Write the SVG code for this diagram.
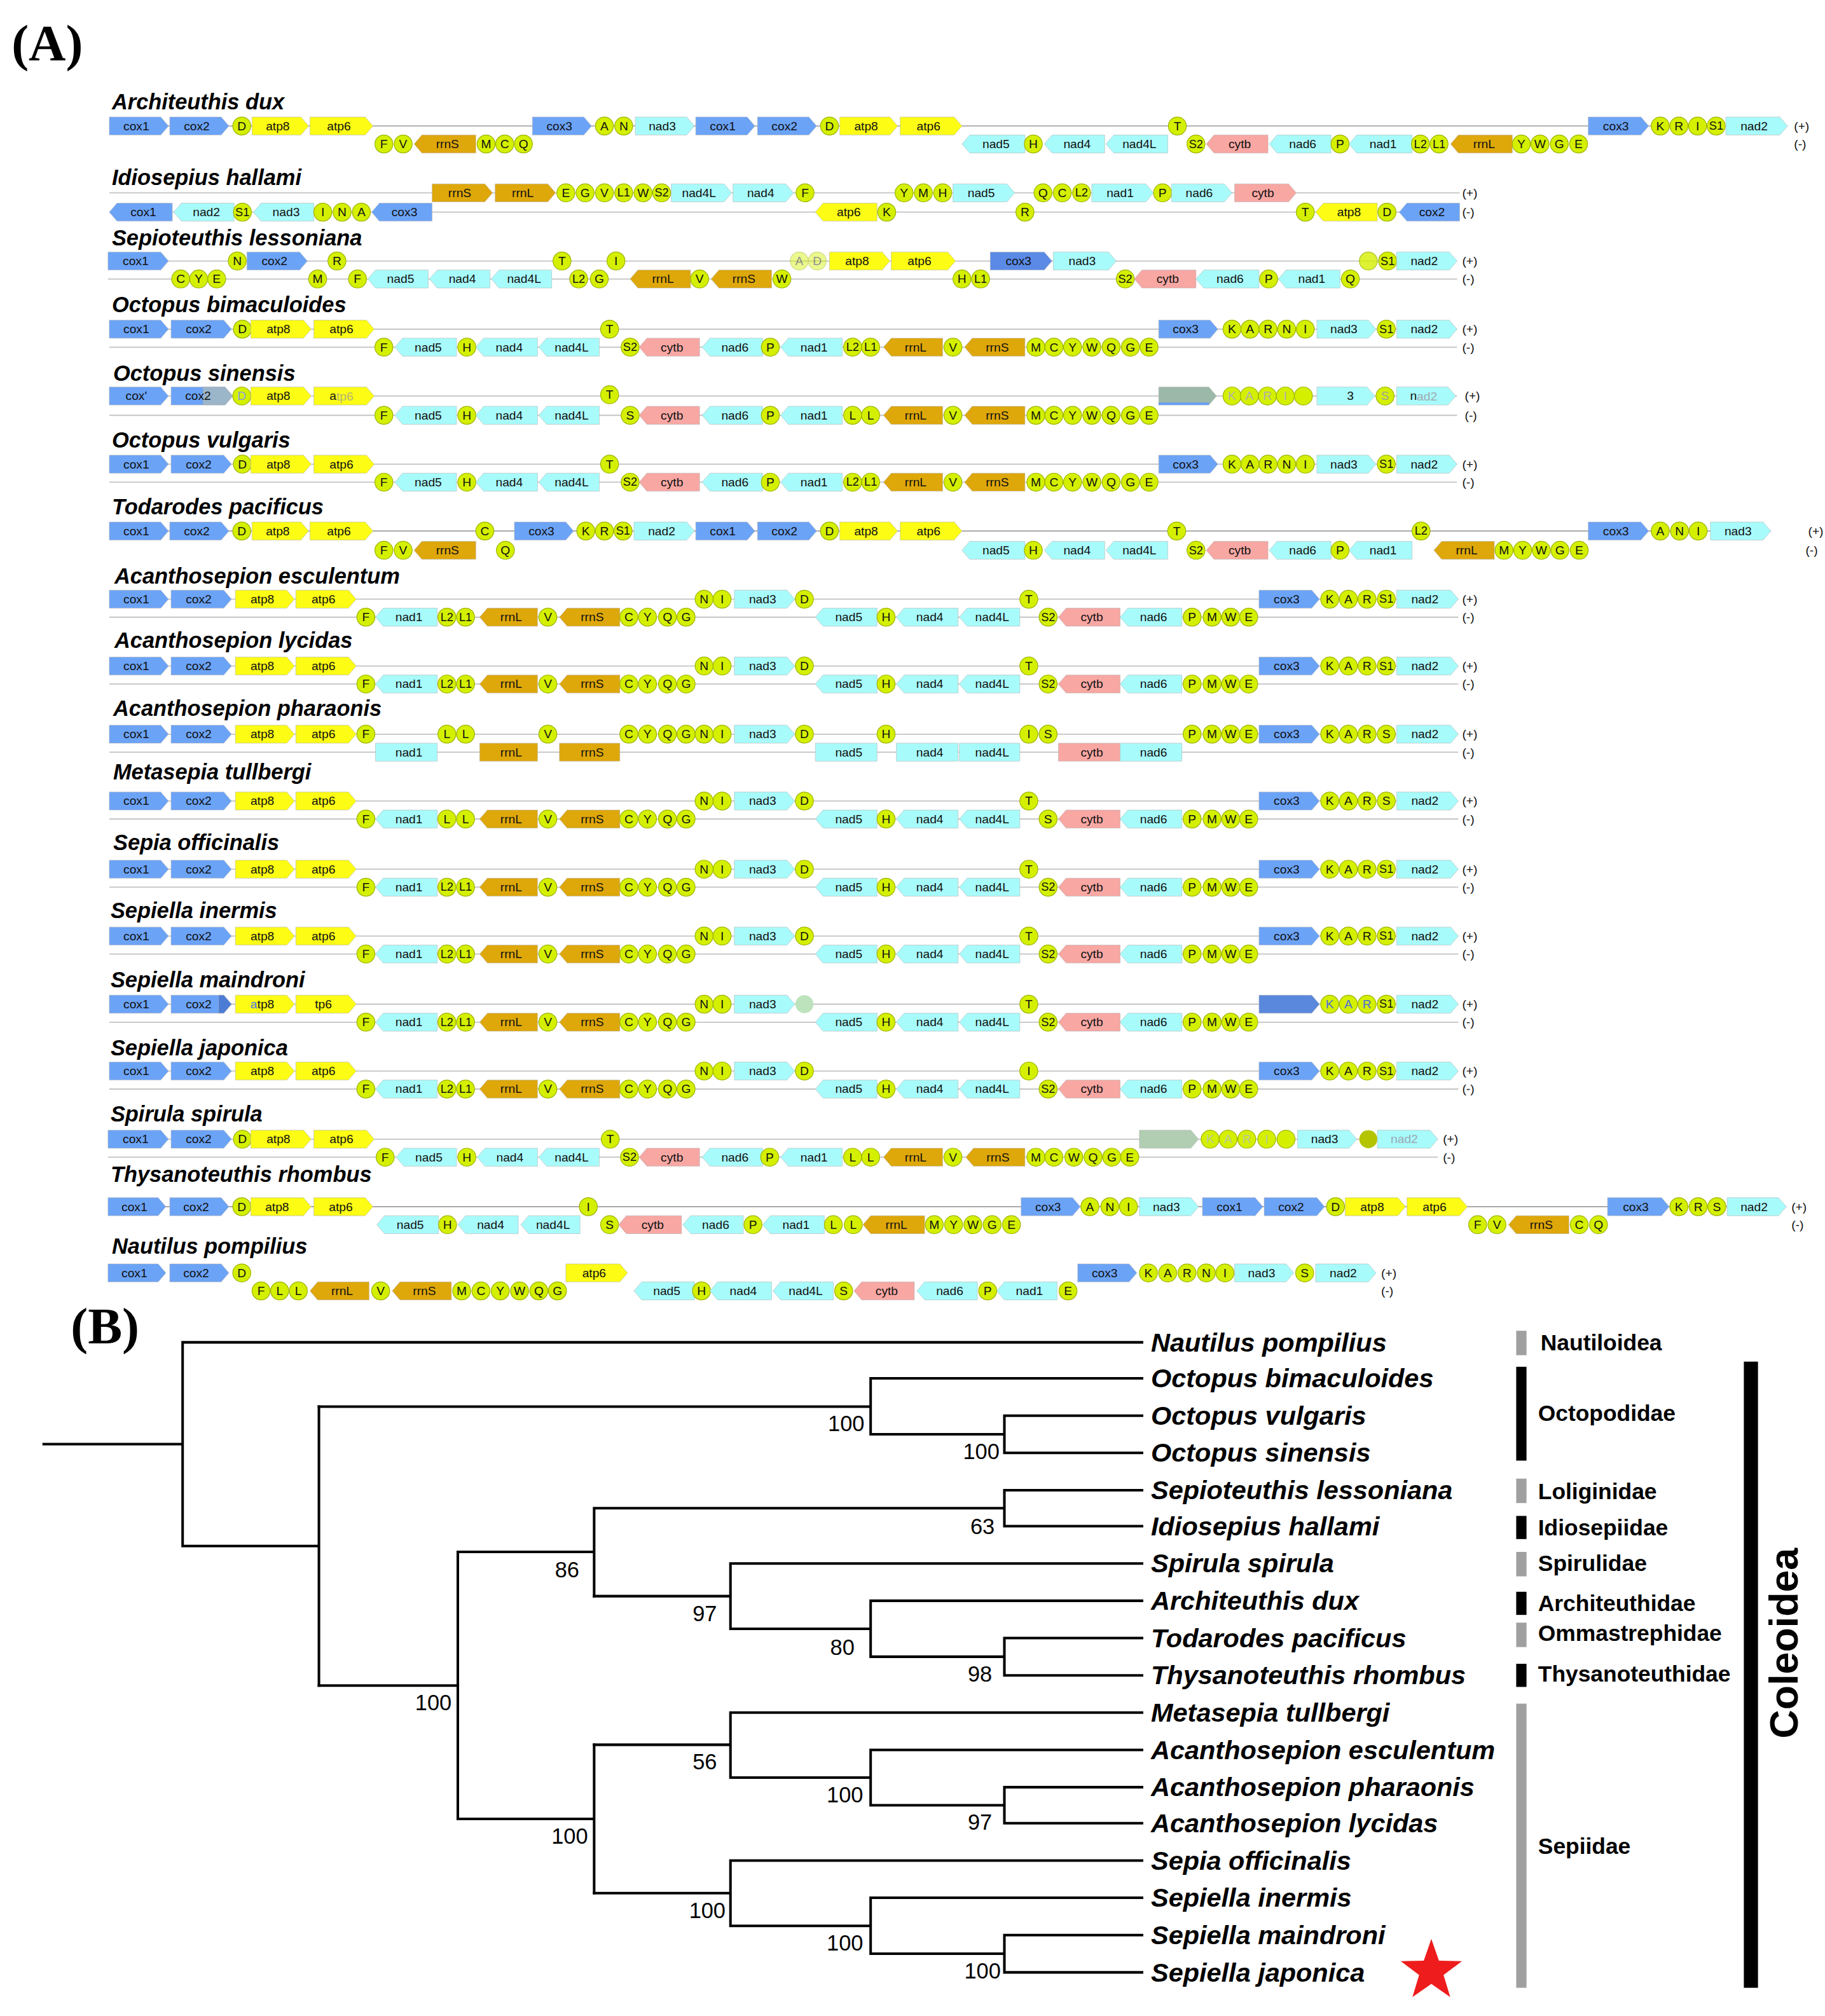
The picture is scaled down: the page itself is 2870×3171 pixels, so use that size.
<svg xmlns="http://www.w3.org/2000/svg" width="2870" height="3171" viewBox="0 0 2870 3171">
<style>
.b{fill:#6ba3f7}.n{fill:#a8fbfb}.a{fill:#fcfc14}.r{fill:#dea70a}.p{fill:#f8a7a3}
.row path{stroke:#b5b5b5;stroke-width:.3}
.t{fill:#d4f000;stroke:#9fb400;stroke-width:.6}
.row text{font-family:"Liberation Sans",Arial,sans-serif;font-size:9.5px;text-anchor:middle;dominant-baseline:central;fill:#111}
.row text.sm{font-size:9px}
.row .ln{fill:none;stroke:#c4c4c4;stroke-width:.9}
.row .ld{fill:none;stroke:#a8a8a8;stroke-width:.9}
.row text.pm{text-anchor:start;font-size:9.5px}
.row text.nm{font-family:"Liberation Sans",Arial,sans-serif;font-size:17px;font-weight:bold;font-style:italic;fill:#000;text-anchor:start;dominant-baseline:auto}
.pl{font-family:"Liberation Serif","Times New Roman",serif;font-size:40px;font-weight:bold;fill:#000}
.tree{fill:none;stroke:#000;stroke-width:2;stroke-linecap:square}
.leaf{font-family:"Liberation Sans",Arial,sans-serif;font-size:20.5px;font-weight:bold;font-style:italic;fill:#000}
.bs{font-family:"Liberation Sans",Arial,sans-serif;font-size:17px;fill:#000;text-anchor:middle}
.fam{font-family:"Liberation Sans",Arial,sans-serif;font-size:17.5px;font-weight:bold;fill:#000}
.fd{fill:#a0a0a0}.fk{fill:#000}
</style>
<rect width="2870" height="3171" fill="#fff"/>
<g transform="scale(2.0224)">
<text class="pl" x="9" y="47">(A)</text>
<text class="pl" x="55" y="1045">(B)</text>

<!-- Row 1 Architeuthis dux -->
<g id="map-architeuthis-dux" class="row">
<text class="nm" x="87" y="85">Architeuthis dux</text>
<g transform="translate(0,98)">
<path class="ld" d="M85 0H1390"/>
<path class="b" d="M85-7H125l6 7-6 7H85z"/><text x="106">cox1</text>
<path class="b" d="M132-7H172l6 7-6 7H132z"/><text x="153">cox2</text>
<circle class="t" cx="188" r="7"/><text x="188">D</text>
<path class="a" d="M196-7H234l6 7-6 7H196z"/><text x="216">atp8</text>
<path class="a" d="M241-7H284l6 7-6 7H241z"/><text x="263.5">atp6</text>
<path class="b" d="M414-7H454l6 7-6 7H414z"/><text x="435">cox3</text>
<circle class="t" cx="470" r="7"/><text x="470">A</text>
<circle class="t" cx="485" r="7"/><text x="485">N</text>
<path class="n" d="M494-7H534l6 7-6 7H494z"/><text x="515">nad3</text>
<path class="b" d="M541-7H581l6 7-6 7H541z"/><text x="562">cox1</text>
<path class="b" d="M589-7H629l6 7-6 7H589z"/><text x="610">cox2</text>
<circle class="t" cx="645" r="7"/><text x="645">D</text>
<path class="a" d="M653-7H692l6 7-6 7H653z"/><text x="673.5">atp8</text>
<path class="a" d="M700-7H742l6 7-6 7H700z"/><text x="722">atp6</text>
<circle class="t" cx="915.5" r="7"/><text x="915.5">T</text>
<path class="b" d="M1235-7H1276l6 7-6 7H1235z"/><text x="1256.5">cox3</text>
<circle class="t" cx="1291" r="7"/><text x="1291">K</text>
<circle class="t" cx="1305.5" r="7"/><text x="1305.5">R</text>
<circle class="t" cx="1320" r="7"/><text x="1320">I</text>
<circle class="t" cx="1334.5" r="7"/><text class="sm" x="1334.5">S1</text>
<path class="n" d="M1342-7H1384l6 7-6 7H1342z"/><text x="1364">nad2</text>
<text class="pm" x="1395">(+)</text>
</g>
<g transform="translate(0,112)">
<circle class="t" cx="298.5" r="7"/><text x="298.5">F</text>
<circle class="t" cx="313.5" r="7"/><text x="313.5">V</text>
<path class="r" d="M322 0l6-7H370v14H328z"/><text x="348">rrnS</text>
<circle class="t" cx="378" r="7"/><text x="378">M</text>
<circle class="t" cx="392.5" r="7"/><text x="392.5">C</text>
<circle class="t" cx="407" r="7"/><text x="407">Q</text>
<path class="n" d="M748 0l6-7H797v14H754z"/><text x="774.5">nad5</text>
<circle class="t" cx="803.5" r="7"/><text x="803.5">H</text>
<path class="n" d="M812 0l6-7H859v14H818z"/><text x="837.5">nad4</text>
<path class="n" d="M860 0l6-7H908v14H866z"/><text x="886">nad4L</text>
<circle class="t" cx="930" r="7"/><text class="sm" x="930">S2</text>
<path class="p" d="M938 0l6-7H986v14H944z"/><text x="964">cytb</text>
<path class="n" d="M987 0l6-7H1035v14H993z"/><text x="1013">nad6</text>
<circle class="t" cx="1042" r="7"/><text x="1042">P</text>
<path class="n" d="M1049 0l6-7H1098v14H1055z"/><text x="1075.5">nad1</text>
<circle class="t" cx="1104.5" r="7"/><text class="sm" x="1104.5">L2</text>
<circle class="t" cx="1119" r="7"/><text class="sm" x="1119">L1</text>
<path class="r" d="M1128 0l6-7H1176v14H1134z"/><text x="1154">rrnL</text>
<circle class="t" cx="1183" r="7"/><text x="1183">Y</text>
<circle class="t" cx="1197.5" r="7"/><text x="1197.5">W</text>
<circle class="t" cx="1212.5" r="7"/><text x="1212.5">G</text>
<circle class="t" cx="1227.5" r="7"/><text x="1227.5">E</text>
<text class="pm" x="1395">(-)</text>
</g>
</g>

<!-- Row 2 Idiosepius hallami -->
<g id="map-idiosepius-hallami" class="row">
<text class="nm" x="87" y="144">Idiosepius hallami</text>
<g transform="translate(0,150)">
<path class="ln" d="M85 0H1135M85 15H1135"/>
<path class="r" d="M336-7H377l6 7-6 7H336z"/><text x="357.5">rrnS</text>
<path class="r" d="M385-7H426l6 7-6 7H385z"/><text x="406.5">rrnL</text>
<circle class="t" cx="440" r="7"/><text x="440">E</text>
<circle class="t" cx="455" r="7"/><text x="455">G</text>
<circle class="t" cx="470" r="7"/><text x="470">V</text>
<circle class="t" cx="485" r="7"/><text class="sm" x="485">L1</text>
<circle class="t" cx="500" r="7"/><text x="500">W</text>
<circle class="t" cx="514.5" r="7"/><text class="sm" x="514.5">S2</text>
<path class="n" d="M522-7H563l6 7-6 7H522z"/><text x="543.5">nad4L</text>
<path class="n" d="M570-7H611l6 7-6 7H570z"/><text x="591.5">nad4</text>
<circle class="t" cx="626" r="7"/><text x="626">F</text>
<circle class="t" cx="703" r="7"/><text x="703">Y</text>
<circle class="t" cx="718" r="7"/><text x="718">M</text>
<circle class="t" cx="733" r="7"/><text x="733">H</text>
<path class="n" d="M741-7H783l6 7-6 7H741z"/><text x="763">nad5</text>
<circle class="t" cx="811" r="7"/><text x="811">Q</text>
<circle class="t" cx="826" r="7"/><text x="826">C</text>
<circle class="t" cx="841" r="7"/><text class="sm" x="841">L2</text>
<path class="n" d="M849-7H891l6 7-6 7H849z"/><text x="871">nad1</text>
<circle class="t" cx="904" r="7"/><text x="904">P</text>
<path class="n" d="M911-7H952l6 7-6 7H911z"/><text x="932.5">nad6</text>
<path class="p" d="M960-7H1002l6 7-6 7H960z"/><text x="982">cytb</text>
<text class="pm" x="1137">(+)</text>
</g>
<g transform="translate(0,165)">
<path class="b" d="M85 0l6-7H134v14H91z"/><text x="111.5">cox1</text>
<path class="n" d="M135 0l6-7H182v14H141z"/><text x="160.5">nad2</text>
<circle class="t" cx="188.5" r="7"/><text class="sm" x="188.5">S1</text>
<path class="n" d="M197 0l6-7H244v14H203z"/><text x="222.5">nad3</text>
<circle class="t" cx="251" r="7"/><text x="251">I</text>
<circle class="t" cx="266" r="7"/><text x="266">N</text>
<circle class="t" cx="281" r="7"/><text x="281">A</text>
<path class="b" d="M289 0l6-7H336v14H295z"/><text x="314.5">cox3</text>
<path class="a" d="M634 0l6-7H682v14H640z"/><text x="660">atp6</text>
<circle class="t" cx="689.5" r="7"/><text x="689.5">K</text>
<circle class="t" cx="797" r="7"/><text x="797">R</text>
<circle class="t" cx="1015" r="7"/><text x="1015">T</text>
<path class="a" d="M1023 0l6-7H1071v14H1029z"/><text x="1049">atp8</text>
<circle class="t" cx="1078.5" r="7"/><text x="1078.5">D</text>
<path class="b" d="M1088 0l6-7H1135v14H1094z"/><text x="1113.5">cox2</text>
<text class="pm" x="1137">(-)</text>
</g>
</g>

<!-- Row 3 Sepioteuthis lessoniana -->
<g id="map-sepioteuthis-lessoniana" class="row">
<text class="nm" x="87" y="191">Sepioteuthis lessoniana</text>
<g transform="translate(0,203)">
<path class="ln" d="M84 0H1133M84 14H1133"/>
<path class="b" d="M84-7H125l6 7-6 7H84z"/><text x="105.5">cox1</text>
<circle class="t" cx="184.5" r="7"/><text x="184.5">N</text>
<path class="b" d="M192-7H233l6 7-6 7H192z"/><text x="213.5">cox2</text>
<circle class="t" cx="262" r="7"/><text x="262">R</text>
<circle class="t" cx="437" r="7"/><text x="437">T</text>
<circle class="t" cx="479" r="7"/><text x="479">I</text>
<g opacity=".45"><circle class="t" cx="621.5" r="7"/><text x="621.5">A</text>
<circle class="t" cx="635.5" r="7"/><text x="635.5">D</text></g>
<path class="a" d="M645-7H686l6 7-6 7H645z"/><text x="666.5">atp8</text>
<path class="a" d="M693-7H737l6 7-6 7H693z"/><text x="715">atp6</text>
<path class="b" d="M770-7H812l6 7-6 7H770z" style="fill:#5a8ae6"/><text x="792">cox3</text>
<path class="n" d="M819-7H862l6 7-6 7H819z"/><text x="841.5">nad3</text>
<circle class="t" cx="1064" r="7" opacity=".8"/>
<circle class="t" cx="1079" r="7"/><text class="sm" x="1079">S1</text>
<path class="n" d="M1086-7H1127l6 7-6 7H1086z"/><text x="1107.5">nad2</text>
<text class="pm" x="1137">(+)</text>
</g>
<g transform="translate(0,217)">
<circle class="t" cx="140.5" r="7"/><text x="140.5">C</text>
<circle class="t" cx="154.5" r="7"/><text x="154.5">Y</text>
<circle class="t" cx="168.5" r="7"/><text x="168.5">E</text>
<circle class="t" cx="247" r="7"/><text x="247">M</text>
<circle class="t" cx="278" r="7"/><text x="278">F</text>
<path class="n" d="M286 0l6-7H333v14H292z"/><text x="311.5">nad5</text>
<path class="n" d="M334 0l6-7H381v14H340z"/><text x="359.5">nad4</text>
<path class="n" d="M382 0l6-7H429v14H388z"/><text x="407.5">nad4L</text>
<circle class="t" cx="450" r="7"/><text class="sm" x="450">L2</text>
<circle class="t" cx="466" r="7"/><text x="466">G</text>
<path class="r" d="M490 0l6-7H537v14H496z"/><text x="515.5">rrnL</text>
<circle class="t" cx="544" r="7"/><text x="544">V</text>
<path class="r" d="M553 0l6-7H600v14H559z"/><text x="578.5">rrnS</text>
<circle class="t" cx="608" r="7"/><text x="608">W</text>
<circle class="t" cx="748" r="7"/><text x="748">H</text>
<circle class="t" cx="762.5" r="7"/><text class="sm" x="762.5">L1</text>
<circle class="t" cx="875" r="7"/><text class="sm" x="875">S2</text>
<path class="p" d="M882 0l6-7H930v14H888z"/><text x="908">cytb</text>
<path class="n" d="M930 0l6-7H979v14H936z"/><text x="956.5">nad6</text>
<circle class="t" cx="986.5" r="7"/><text x="986.5">P</text>
<path class="n" d="M994 0l6-7H1042v14H1000z"/><text x="1020">nad1</text>
<circle class="t" cx="1050" r="7"/><text x="1050">Q</text>
<text class="pm" x="1137">(-)</text>
</g>
</g>

<!-- Row 4 Octopus bimaculoides -->
<g id="map-octopus-bimaculoides" class="row">
<text class="nm" x="87" y="243">Octopus bimaculoides</text>
<g transform="translate(0,256)">
<path class="ln" d="M85 0H1133M85 14H1133"/>
<path class="b" d="M85-7H125l6 7-6 7H85z"/><text x="106">cox1</text>
<path class="b" d="M133-7H174l6 7-6 7H133z"/><text x="154.5">cox2</text>
<circle class="t" cx="188.5" r="7"/><text x="188.5">D</text>
<path class="a" d="M195-7H236l6 7-6 7H195z"/><text x="216.5">atp8</text>
<path class="a" d="M244-7H285l6 7-6 7H244z"/><text x="265.5">atp6</text>
<circle class="t" cx="474" r="7"/><text x="474">T</text>
<path class="b" d="M901-7H941l6 7-6 7H901z"/><text x="922">cox3</text>
<circle class="t" cx="958" r="7"/><text x="958">K</text>
<circle class="t" cx="972" r="7"/><text x="972">A</text>
<circle class="t" cx="986" r="7"/><text x="986">R</text>
<circle class="t" cx="1000.5" r="7"/><text x="1000.5">N</text>
<circle class="t" cx="1015" r="7"/><text x="1015">I</text>
<path class="n" d="M1024-7H1064l6 7-6 7H1024z"/><text x="1045">nad3</text>
<circle class="t" cx="1078" r="7"/><text class="sm" x="1078">S1</text>
<path class="n" d="M1086-7H1127l6 7-6 7H1086z"/><text x="1107.5">nad2</text>
<text class="pm" x="1137">(+)</text>
</g>
<g transform="translate(0,270)">
<circle class="t" cx="298.5" r="7"/><text x="298.5">F</text>
<path class="n" d="M307 0l6-7H355v14H313z"/><text x="333">nad5</text>
<circle class="t" cx="363" r="7"/><text x="363">H</text>
<path class="n" d="M370 0l6-7H418v14H376z"/><text x="396">nad4</text>
<path class="n" d="M419 0l6-7H466v14H425z"/><text x="444.5">nad4L</text>
<circle class="t" cx="490" r="7"/><text class="sm" x="490">S2</text>
<path class="p" d="M497 0l6-7H544v14H503z"/><text x="522.5">cytb</text>
<path class="n" d="M546 0l6-7H593v14H552z"/><text x="571.5">nad6</text>
<circle class="t" cx="599" r="7"/><text x="599">P</text>
<path class="n" d="M607 0l6-7H655v14H613z"/><text x="633">nad1</text>
<circle class="t" cx="663" r="7"/><text class="sm" x="663">L2</text>
<circle class="t" cx="677" r="7"/><text class="sm" x="677">L1</text>
<path class="r" d="M687 0l6-7H733v14H693z"/><text x="712">rrnL</text>
<circle class="t" cx="741" r="7"/><text x="741">V</text>
<path class="r" d="M750 0l6-7H797v14H756z"/><text x="775.5">rrnS</text>
<circle class="t" cx="805.5" r="7"/><text x="805.5">M</text>
<circle class="t" cx="819.5" r="7"/><text x="819.5">C</text>
<circle class="t" cx="834" r="7"/><text x="834">Y</text>
<circle class="t" cx="849" r="7"/><text x="849">W</text>
<circle class="t" cx="864" r="7"/><text x="864">Q</text>
<circle class="t" cx="879" r="7"/><text x="879">G</text>
<circle class="t" cx="893.5" r="7"/><text x="893.5">E</text>
<text class="pm" x="1137">(-)</text>
</g>
</g>

<!-- Row 5 Octopus sinensis -->
<g id="map-octopus-sinensis" class="row">
<text class="nm" x="88" y="296">Octopus sinensis</text>
<g transform="translate(0,308)">
<path class="ln" d="M85 0H1133M85 15H1133"/>
<path class="b" d="M85-7H125l6 7-6 7H85z"/><text x="106">cox'</text>
<path class="b" d="M133-7H175l6 7-6 7H133z"/><path d="M158-7H175l6 7-6 7H158z" fill="#9bb5c9"/><text x="154" fill="#5a78b0">cox2</text>
<circle class="t" cx="188" r="7"/><text x="188" style="fill:#8aa0e0">D</text>
<path class="a" d="M195-7H236l6 7-6 7H195z"/><text x="216.5">atp8</text>
<path class="a" d="M244-7H285l6 7-6 7H244z"/><text x="265.5">a<tspan fill="#b5b57a">tp6</tspan></text>
<circle class="t" cx="474" cy="-1" r="7"/><text x="474" y="-1">T</text>
<path d="M901-7H940l6 7-6 7H901z" fill="#9cb8a8"/><rect x="901" y="5" width="39" height="2" fill="#6a9ff0"/>
<g style="fill:#b0b8a0"><circle class="t" cx="958" r="7"/><text x="958" style="fill:#b0b0b0">K</text>
<circle class="t" cx="971.5" r="7"/><text x="971.5" style="fill:#b0b0b0">A</text>
<circle class="t" cx="985.5" r="7"/><text x="985.5" style="fill:#b0b0b0">R</text>
<circle class="t" cx="999.5" r="7"/><text x="999.5" style="fill:#b0b0b0">I</text>
<circle class="t" cx="1013.5" r="7"/></g>
<path class="n" d="M1024-7H1063l6 7-6 7H1024z"/><text x="1050">3</text>
<circle class="t" cx="1077" r="7"/><text x="1077" style="fill:#a0a0a0">S</text>
<path class="n" d="M1086-7H1126l6 7-6 7H1086z"/><text x="1107">n<tspan fill="#a0a8b0">ad2</tspan></text>
<text class="pm" x="1139">(+)</text>
</g>
<g transform="translate(0,323)">
<circle class="t" cx="298.5" r="7"/><text x="298.5">F</text>
<path class="n" d="M307 0l6-7H355v14H313z"/><text x="333">nad5</text>
<circle class="t" cx="363" r="7"/><text x="363">H</text>
<path class="n" d="M370 0l6-7H418v14H376z"/><text x="396">nad4</text>
<path class="n" d="M419 0l6-7H466v14H425z"/><text x="444.5">nad4L</text>
<circle class="t" cx="490" r="7"/><text x="490">S</text>
<path class="p" d="M497 0l6-7H544v14H503z"/><text x="522.5">cytb</text>
<path class="n" d="M546 0l6-7H593v14H552z"/><text x="571.5">nad6</text>
<circle class="t" cx="599" r="7"/><text x="599">P</text>
<path class="n" d="M607 0l6-7H655v14H613z"/><text x="633">nad1</text>
<circle class="t" cx="663" r="7"/><text x="663">L</text>
<circle class="t" cx="677" r="7"/><text x="677">L</text>
<path class="r" d="M687 0l6-7H733v14H693z"/><text x="712">rrnL</text>
<circle class="t" cx="741" r="7"/><text x="741">V</text>
<path class="r" d="M750 0l6-7H797v14H756z"/><text x="775.5">rrnS</text>
<circle class="t" cx="805.5" r="7"/><text x="805.5">M</text>
<circle class="t" cx="819.5" r="7"/><text x="819.5">C</text>
<circle class="t" cx="834" r="7"/><text x="834">Y</text>
<circle class="t" cx="849" r="7"/><text x="849">W</text>
<circle class="t" cx="864" r="7"/><text x="864">Q</text>
<circle class="t" cx="879" r="7"/><text x="879">G</text>
<circle class="t" cx="893.5" r="7"/><text x="893.5">E</text>
<text class="pm" x="1139">(-)</text>
</g>
</g>

<!-- Row 6 Octopus vulgaris -->
<g id="map-octopus-vulgaris" class="row">
<text class="nm" x="87" y="348">Octopus vulgaris</text>
<g transform="translate(0,361)">
<path class="ln" d="M85 0H1133M85 14H1133"/>
<path class="b" d="M85-7H125l6 7-6 7H85z"/><text x="106">cox1</text>
<path class="b" d="M133-7H174l6 7-6 7H133z"/><text x="154.5">cox2</text>
<circle class="t" cx="188.5" r="7"/><text x="188.5">D</text>
<path class="a" d="M195-7H236l6 7-6 7H195z"/><text x="216.5">atp8</text>
<path class="a" d="M244-7H285l6 7-6 7H244z"/><text x="265.5">atp6</text>
<circle class="t" cx="474" r="7"/><text x="474">T</text>
<path class="b" d="M901-7H941l6 7-6 7H901z"/><text x="922">cox3</text>
<circle class="t" cx="958" r="7"/><text x="958">K</text>
<circle class="t" cx="972" r="7"/><text x="972">A</text>
<circle class="t" cx="986" r="7"/><text x="986">R</text>
<circle class="t" cx="1000.5" r="7"/><text x="1000.5">N</text>
<circle class="t" cx="1015" r="7"/><text x="1015">I</text>
<path class="n" d="M1024-7H1064l6 7-6 7H1024z"/><text x="1045">nad3</text>
<circle class="t" cx="1078" r="7"/><text class="sm" x="1078">S1</text>
<path class="n" d="M1086-7H1127l6 7-6 7H1086z"/><text x="1107.5">nad2</text>
<text class="pm" x="1137">(+)</text>
</g>
<g transform="translate(0,375)">
<circle class="t" cx="298.5" r="7"/><text x="298.5">F</text>
<path class="n" d="M307 0l6-7H355v14H313z"/><text x="333">nad5</text>
<circle class="t" cx="363" r="7"/><text x="363">H</text>
<path class="n" d="M370 0l6-7H418v14H376z"/><text x="396">nad4</text>
<path class="n" d="M419 0l6-7H466v14H425z"/><text x="444.5">nad4L</text>
<circle class="t" cx="490" r="7"/><text class="sm" x="490">S2</text>
<path class="p" d="M497 0l6-7H544v14H503z"/><text x="522.5">cytb</text>
<path class="n" d="M546 0l6-7H593v14H552z"/><text x="571.5">nad6</text>
<circle class="t" cx="599" r="7"/><text x="599">P</text>
<path class="n" d="M607 0l6-7H655v14H613z"/><text x="633">nad1</text>
<circle class="t" cx="663" r="7"/><text class="sm" x="663">L2</text>
<circle class="t" cx="677" r="7"/><text class="sm" x="677">L1</text>
<path class="r" d="M687 0l6-7H733v14H693z"/><text x="712">rrnL</text>
<circle class="t" cx="741" r="7"/><text x="741">V</text>
<path class="r" d="M750 0l6-7H797v14H756z"/><text x="775.5">rrnS</text>
<circle class="t" cx="805.5" r="7"/><text x="805.5">M</text>
<circle class="t" cx="819.5" r="7"/><text x="819.5">C</text>
<circle class="t" cx="834" r="7"/><text x="834">Y</text>
<circle class="t" cx="849" r="7"/><text x="849">W</text>
<circle class="t" cx="864" r="7"/><text x="864">Q</text>
<circle class="t" cx="879" r="7"/><text x="879">G</text>
<circle class="t" cx="893.5" r="7"/><text x="893.5">E</text>
<text class="pm" x="1137">(-)</text>
</g>
</g>

<!-- Row 7 Todarodes pacificus -->
<g id="map-todarodes-pacificus" class="row">
<text class="nm" x="87" y="400">Todarodes pacificus</text>
<g transform="translate(0,413)">
<path class="ld" d="M85 0H1377"/>
<path class="b" d="M85-7H125l6 7-6 7H85z"/><text x="106">cox1</text>
<path class="b" d="M132-7H172l6 7-6 7H132z"/><text x="153">cox2</text>
<circle class="t" cx="188" r="7"/><text x="188">D</text>
<path class="a" d="M196-7H234l6 7-6 7H196z"/><text x="216">atp8</text>
<path class="a" d="M241-7H284l6 7-6 7H241z"/><text x="263.5">atp6</text>
<circle class="t" cx="377" r="7"/><text x="377">C</text>
<path class="b" d="M400-7H440l6 7-6 7H400z"/><text x="421">cox3</text>
<circle class="t" cx="455.5" r="7"/><text x="455.5">K</text>
<circle class="t" cx="470" r="7"/><text x="470">R</text>
<circle class="t" cx="484.5" r="7"/><text class="sm" x="484.5">S1</text>
<path class="n" d="M493-7H534l6 7-6 7H493z"/><text x="514.5">nad2</text>
<path class="b" d="M541-7H581l6 7-6 7H541z"/><text x="562">cox1</text>
<path class="b" d="M589-7H629l6 7-6 7H589z"/><text x="610">cox2</text>
<circle class="t" cx="645" r="7"/><text x="645">D</text>
<path class="a" d="M653-7H692l6 7-6 7H653z"/><text x="673.5">atp8</text>
<path class="a" d="M700-7H742l6 7-6 7H700z"/><text x="722">atp6</text>
<circle class="t" cx="915" r="7"/><text x="915">T</text>
<circle class="t" cx="1105" r="7"/><text class="sm" x="1105">L2</text>
<path class="b" d="M1235-7H1276l6 7-6 7H1235z"/><text x="1256.5">cox3</text>
<circle class="t" cx="1291" r="7"/><text x="1291">A</text>
<circle class="t" cx="1306" r="7"/><text x="1306">N</text>
<circle class="t" cx="1320.5" r="7"/><text x="1320.5">I</text>
<path class="n" d="M1330-7H1371l6 7-6 7H1330z"/><text x="1351.5">nad3</text>
<text class="pm" x="1406">(+)</text>
</g>
<g transform="translate(0,428)">
<circle class="t" cx="298.5" r="7"/><text x="298.5">F</text>
<circle class="t" cx="313.5" r="7"/><text x="313.5">V</text>
<path class="r" d="M322 0l6-7H370v14H328z"/><text x="348">rrnS</text>
<circle class="t" cx="393" r="7"/><text x="393">Q</text>
<path class="n" d="M748 0l6-7H797v14H754z"/><text x="774.5">nad5</text>
<circle class="t" cx="803.5" r="7"/><text x="803.5">H</text>
<path class="n" d="M812 0l6-7H859v14H818z"/><text x="837.5">nad4</text>
<path class="n" d="M860 0l6-7H908v14H866z"/><text x="886">nad4L</text>
<circle class="t" cx="930" r="7"/><text class="sm" x="930">S2</text>
<path class="p" d="M938 0l6-7H986v14H944z"/><text x="964">cytb</text>
<path class="n" d="M987 0l6-7H1035v14H993z"/><text x="1013">nad6</text>
<circle class="t" cx="1042" r="7"/><text x="1042">P</text>
<path class="n" d="M1049 0l6-7H1098v14H1055z"/><text x="1075.5">nad1</text>
<path class="r" d="M1115 0l6-7H1162v14H1121z"/><text x="1140.5">rrnL</text>
<circle class="t" cx="1169.5" r="7"/><text x="1169.5">M</text>
<circle class="t" cx="1184" r="7"/><text x="1184">Y</text>
<circle class="t" cx="1198.5" r="7"/><text x="1198.5">W</text>
<circle class="t" cx="1213" r="7"/><text x="1213">G</text>
<circle class="t" cx="1228" r="7"/><text x="1228">E</text>
<text class="pm" x="1404">(-)</text>
</g>
</g>

<!-- Row 8 Acanthosepion esculentum -->
<g id="map-acanthosepion-esculentum" class="row">
<text class="nm" x="89" y="454">Acanthosepion esculentum</text>
<g transform="translate(0,466)">
<path class="ln" d="M85 0H1134M85 14H1134"/>
<path class="b" d="M85-7H125l6 7-6 7H85z"/><text x="106">cox1</text>
<path class="b" d="M133-7H174l6 7-6 7H133z"/><text x="154.5">cox2</text>
<path class="a" d="M183-7H223l6 7-6 7H183z"/><text x="204">atp8</text>
<path class="a" d="M230-7H271l6 7-6 7H230z"/><text x="251.5">atp6</text>
<circle class="t" cx="547.5" r="7"/><text x="547.5">N</text>
<circle class="t" cx="561.5" r="7"/><text x="561.5">I</text>
<path class="n" d="M571-7H612l6 7-6 7H571z"/><text x="593">nad3</text>
<circle class="t" cx="625.5" r="7"/><text x="625.5">D</text>
<circle class="t" cx="800" r="7"/><text x="800">T</text>
<path class="b" d="M979-7H1020l6 7-6 7H979z"/><text x="1000.5">cox3</text>
<circle class="t" cx="1034" r="7"/><text x="1034">K</text>
<circle class="t" cx="1048.5" r="7"/><text x="1048.5">A</text>
<circle class="t" cx="1063" r="7"/><text x="1063">R</text>
<circle class="t" cx="1078" r="7"/><text class="sm" x="1078">S1</text>
<path class="n" d="M1086-7H1128l6 7-6 7H1086z"/><text x="1108">nad2</text>
<text class="pm" x="1137">(+)</text>
</g>
<g transform="translate(0,480)">
<circle class="t" cx="284.5" r="7"/><text x="284.5">F</text>
<path class="n" d="M292 0l6-7H340v14H298z"/><text x="318">nad1</text>
<circle class="t" cx="347.5" r="7"/><text class="sm" x="347.5">L2</text>
<circle class="t" cx="362" r="7"/><text class="sm" x="362">L1</text>
<path class="r" d="M373 0l6-7H418v14H379z"/><text x="397.5">rrnL</text>
<circle class="t" cx="426" r="7"/><text x="426">V</text>
<path class="r" d="M435 0l6-7H482v14H441z"/><text x="460.5">rrnS</text>
<circle class="t" cx="489" r="7"/><text x="489">C</text>
<circle class="t" cx="503.5" r="7"/><text x="503.5">Y</text>
<circle class="t" cx="519" r="7"/><text x="519">Q</text>
<circle class="t" cx="533.5" r="7"/><text x="533.5">G</text>
<path class="n" d="M634 0l6-7H682v14H640z"/><text x="660">nad5</text>
<circle class="t" cx="689" r="7"/><text x="689">H</text>
<path class="n" d="M697 0l6-7H745v14H703z"/><text x="723">nad4</text>
<path class="n" d="M746 0l6-7H793v14H752z"/><text x="771.5">nad4L</text>
<circle class="t" cx="815" r="7"/><text class="sm" x="815">S2</text>
<path class="p" d="M823 0l6-7H871v14H829z"/><text x="849">cytb</text>
<path class="n" d="M871 0l6-7H919v14H877z"/><text x="897">nad6</text>
<circle class="t" cx="927" r="7"/><text x="927">P</text>
<circle class="t" cx="942.5" r="7"/><text x="942.5">M</text>
<circle class="t" cx="957" r="7"/><text x="957">W</text>
<circle class="t" cx="971" r="7"/><text x="971">E</text>
<text class="pm" x="1137">(-)</text>
</g>
</g>

<!-- Row 9 Acanthosepion lycidas -->
<g id="map-acanthosepion-lycidas" class="row">
<text class="nm" x="89" y="504">Acanthosepion lycidas</text>
<g transform="translate(0,518)">
<path class="ln" d="M85 0H1134M85 14H1134"/>
<path class="b" d="M85-7H125l6 7-6 7H85z"/><text x="106">cox1</text>
<path class="b" d="M133-7H174l6 7-6 7H133z"/><text x="154.5">cox2</text>
<path class="a" d="M183-7H223l6 7-6 7H183z"/><text x="204">atp8</text>
<path class="a" d="M230-7H271l6 7-6 7H230z"/><text x="251.5">atp6</text>
<circle class="t" cx="547.5" r="7"/><text x="547.5">N</text>
<circle class="t" cx="561.5" r="7"/><text x="561.5">I</text>
<path class="n" d="M571-7H612l6 7-6 7H571z"/><text x="593">nad3</text>
<circle class="t" cx="625.5" r="7"/><text x="625.5">D</text>
<circle class="t" cx="800" r="7"/><text x="800">T</text>
<path class="b" d="M979-7H1020l6 7-6 7H979z"/><text x="1000.5">cox3</text>
<circle class="t" cx="1034" r="7"/><text x="1034">K</text>
<circle class="t" cx="1048.5" r="7"/><text x="1048.5">A</text>
<circle class="t" cx="1063" r="7"/><text x="1063">R</text>
<circle class="t" cx="1078" r="7"/><text class="sm" x="1078">S1</text>
<path class="n" d="M1086-7H1128l6 7-6 7H1086z"/><text x="1108">nad2</text>
<text class="pm" x="1137">(+)</text>
</g>
<g transform="translate(0,532)">
<circle class="t" cx="284.5" r="7"/><text x="284.5">F</text>
<path class="n" d="M292 0l6-7H340v14H298z"/><text x="318">nad1</text>
<circle class="t" cx="347.5" r="7"/><text class="sm" x="347.5">L2</text>
<circle class="t" cx="362" r="7"/><text class="sm" x="362">L1</text>
<path class="r" d="M373 0l6-7H418v14H379z"/><text x="397.5">rrnL</text>
<circle class="t" cx="426" r="7"/><text x="426">V</text>
<path class="r" d="M435 0l6-7H482v14H441z"/><text x="460.5">rrnS</text>
<circle class="t" cx="489" r="7"/><text x="489">C</text>
<circle class="t" cx="503.5" r="7"/><text x="503.5">Y</text>
<circle class="t" cx="519" r="7"/><text x="519">Q</text>
<circle class="t" cx="533.5" r="7"/><text x="533.5">G</text>
<path class="n" d="M634 0l6-7H682v14H640z"/><text x="660">nad5</text>
<circle class="t" cx="689" r="7"/><text x="689">H</text>
<path class="n" d="M697 0l6-7H745v14H703z"/><text x="723">nad4</text>
<path class="n" d="M746 0l6-7H793v14H752z"/><text x="771.5">nad4L</text>
<circle class="t" cx="815" r="7"/><text class="sm" x="815">S2</text>
<path class="p" d="M823 0l6-7H871v14H829z"/><text x="849">cytb</text>
<path class="n" d="M871 0l6-7H919v14H877z"/><text x="897">nad6</text>
<circle class="t" cx="927" r="7"/><text x="927">P</text>
<circle class="t" cx="942.5" r="7"/><text x="942.5">M</text>
<circle class="t" cx="957" r="7"/><text x="957">W</text>
<circle class="t" cx="971" r="7"/><text x="971">E</text>
<text class="pm" x="1137">(-)</text>
</g>
</g>

<!-- Row 10 Acanthosepion pharaonis -->
<g id="map-acanthosepion-pharaonis" class="row">
<text class="nm" x="88" y="557">Acanthosepion pharaonis</text>
<g transform="translate(0,571)">
<path class="ln" d="M85 0H1134M85 14H1134"/>
<path class="b" d="M85-7H125l6 7-6 7H85z"/><text x="106">cox1</text>
<path class="b" d="M133-7H174l6 7-6 7H133z"/><text x="154.5">cox2</text>
<path class="a" d="M183-7H223l6 7-6 7H183z"/><text x="204">atp8</text>
<path class="a" d="M230-7H271l6 7-6 7H230z"/><text x="251.5">atp6</text>
<circle class="t" cx="284.5" r="7"/><text x="284.5">F</text>
<circle class="t" cx="347.5" r="7"/><text x="347.5">L</text>
<circle class="t" cx="362" r="7"/><text x="362">L</text>
<circle class="t" cx="426" r="7"/><text x="426">V</text>
<circle class="t" cx="489" r="7"/><text x="489">C</text>
<circle class="t" cx="503.5" r="7"/><text x="503.5">Y</text>
<circle class="t" cx="519" r="7"/><text x="519">Q</text>
<circle class="t" cx="533.5" r="7"/><text x="533.5">G</text>
<circle class="t" cx="547.5" r="7"/><text x="547.5">N</text>
<circle class="t" cx="561.5" r="7"/><text x="561.5">I</text>
<path class="n" d="M571-7H612l6 7-6 7H571z"/><text x="593">nad3</text>
<circle class="t" cx="625.5" r="7"/><text x="625.5">D</text>
<circle class="t" cx="689" r="7"/><text x="689">H</text>
<circle class="t" cx="800" r="7"/><text x="800">I</text>
<circle class="t" cx="815" r="7"/><text x="815">S</text>
<circle class="t" cx="927" r="7"/><text x="927">P</text>
<circle class="t" cx="942.5" r="7"/><text x="942.5">M</text>
<circle class="t" cx="957" r="7"/><text x="957">W</text>
<circle class="t" cx="971" r="7"/><text x="971">E</text>
<path class="b" d="M979-7H1020l6 7-6 7H979z"/><text x="1000.5">cox3</text>
<circle class="t" cx="1034" r="7"/><text x="1034">K</text>
<circle class="t" cx="1048.5" r="7"/><text x="1048.5">A</text>
<circle class="t" cx="1063" r="7"/><text x="1063">R</text>
<circle class="t" cx="1078" r="7"/><text x="1078">S</text>
<path class="n" d="M1086-7H1128l6 7-6 7H1086z"/><text x="1108">nad2</text>
<text class="pm" x="1137">(+)</text>
</g>
<g transform="translate(0,585)">
<path class="n" d="M292-7H340v14H292z"/><text x="318">nad1</text>
<path class="r" d="M373-7H418v14H373z"/><text x="397.5">rrnL</text>
<path class="r" d="M435-7H482v14H435z"/><text x="460.5">rrnS</text>
<path class="n" d="M634-7H682v14H634z"/><text x="660">nad5</text>
<path class="n" d="M697-7H745v14H697z"/><text x="723">nad4</text>
<path class="n" d="M746-7H793v14H746z"/><text x="771.5">nad4L</text>
<path class="p" d="M823-7H871v14H823z"/><text x="849">cytb</text>
<path class="n" d="M871-7H919v14H871z"/><text x="897">nad6</text>
<text class="pm" x="1137">(-)</text>
</g>
</g>

<!-- Row 11 Metasepia tullbergi -->
<g id="map-metasepia-tullbergi" class="row">
<text class="nm" x="88" y="606">Metasepia tullbergi</text>
<g transform="translate(0,623)">
<path class="ln" d="M85 0H1134M85 14H1134"/>
<path class="b" d="M85-7H125l6 7-6 7H85z"/><text x="106">cox1</text>
<path class="b" d="M133-7H174l6 7-6 7H133z"/><text x="154.5">cox2</text>
<path class="a" d="M183-7H223l6 7-6 7H183z"/><text x="204">atp8</text>
<path class="a" d="M230-7H271l6 7-6 7H230z"/><text x="251.5">atp6</text>
<circle class="t" cx="547.5" r="7"/><text x="547.5">N</text>
<circle class="t" cx="561.5" r="7"/><text x="561.5">I</text>
<path class="n" d="M571-7H612l6 7-6 7H571z"/><text x="593">nad3</text>
<circle class="t" cx="625.5" r="7"/><text x="625.5">D</text>
<circle class="t" cx="800" r="7"/><text x="800">T</text>
<path class="b" d="M979-7H1020l6 7-6 7H979z"/><text x="1000.5">cox3</text>
<circle class="t" cx="1034" r="7"/><text x="1034">K</text>
<circle class="t" cx="1048.5" r="7"/><text x="1048.5">A</text>
<circle class="t" cx="1063" r="7"/><text x="1063">R</text>
<circle class="t" cx="1078" r="7"/><text x="1078">S</text>
<path class="n" d="M1086-7H1128l6 7-6 7H1086z"/><text x="1108">nad2</text>
<text class="pm" x="1137">(+)</text>
</g>
<g transform="translate(0,637)">
<circle class="t" cx="284.5" r="7"/><text x="284.5">F</text>
<path class="n" d="M292 0l6-7H340v14H298z"/><text x="318">nad1</text>
<circle class="t" cx="347.5" r="7"/><text x="347.5">L</text>
<circle class="t" cx="362" r="7"/><text x="362">L</text>
<path class="r" d="M373 0l6-7H418v14H379z"/><text x="397.5">rrnL</text>
<circle class="t" cx="426" r="7"/><text x="426">V</text>
<path class="r" d="M435 0l6-7H482v14H441z"/><text x="460.5">rrnS</text>
<circle class="t" cx="489" r="7"/><text x="489">C</text>
<circle class="t" cx="503.5" r="7"/><text x="503.5">Y</text>
<circle class="t" cx="519" r="7"/><text x="519">Q</text>
<circle class="t" cx="533.5" r="7"/><text x="533.5">G</text>
<path class="n" d="M634 0l6-7H682v14H640z"/><text x="660">nad5</text>
<circle class="t" cx="689" r="7"/><text x="689">H</text>
<path class="n" d="M697 0l6-7H745v14H703z"/><text x="723">nad4</text>
<path class="n" d="M746 0l6-7H793v14H752z"/><text x="771.5">nad4L</text>
<circle class="t" cx="815" r="7"/><text x="815">S</text>
<path class="p" d="M823 0l6-7H871v14H829z"/><text x="849">cytb</text>
<path class="n" d="M871 0l6-7H919v14H877z"/><text x="897">nad6</text>
<circle class="t" cx="927" r="7"/><text x="927">P</text>
<circle class="t" cx="942.5" r="7"/><text x="942.5">M</text>
<circle class="t" cx="957" r="7"/><text x="957">W</text>
<circle class="t" cx="971" r="7"/><text x="971">E</text>
<text class="pm" x="1137">(-)</text>
</g>
</g>

<!-- Row 12 Sepia officinalis -->
<g id="map-sepia-officinalis" class="row">
<text class="nm" x="88" y="661">Sepia officinalis</text>
<g transform="translate(0,676)">
<path class="ln" d="M85 0H1134M85 14H1134"/>
<path class="b" d="M85-7H125l6 7-6 7H85z"/><text x="106">cox1</text>
<path class="b" d="M133-7H174l6 7-6 7H133z"/><text x="154.5">cox2</text>
<path class="a" d="M183-7H223l6 7-6 7H183z"/><text x="204">atp8</text>
<path class="a" d="M230-7H271l6 7-6 7H230z"/><text x="251.5">atp6</text>
<circle class="t" cx="547.5" r="7"/><text x="547.5">N</text>
<circle class="t" cx="561.5" r="7"/><text x="561.5">I</text>
<path class="n" d="M571-7H612l6 7-6 7H571z"/><text x="593">nad3</text>
<circle class="t" cx="625.5" r="7"/><text x="625.5">D</text>
<circle class="t" cx="800" r="7"/><text x="800">T</text>
<path class="b" d="M979-7H1020l6 7-6 7H979z"/><text x="1000.5">cox3</text>
<circle class="t" cx="1034" r="7"/><text x="1034">K</text>
<circle class="t" cx="1048.5" r="7"/><text x="1048.5">A</text>
<circle class="t" cx="1063" r="7"/><text x="1063">R</text>
<circle class="t" cx="1078" r="7"/><text class="sm" x="1078">S1</text>
<path class="n" d="M1086-7H1128l6 7-6 7H1086z"/><text x="1108">nad2</text>
<text class="pm" x="1137">(+)</text>
</g>
<g transform="translate(0,690)">
<circle class="t" cx="284.5" r="7"/><text x="284.5">F</text>
<path class="n" d="M292 0l6-7H340v14H298z"/><text x="318">nad1</text>
<circle class="t" cx="347.5" r="7"/><text class="sm" x="347.5">L2</text>
<circle class="t" cx="362" r="7"/><text class="sm" x="362">L1</text>
<path class="r" d="M373 0l6-7H418v14H379z"/><text x="397.5">rrnL</text>
<circle class="t" cx="426" r="7"/><text x="426">V</text>
<path class="r" d="M435 0l6-7H482v14H441z"/><text x="460.5">rrnS</text>
<circle class="t" cx="489" r="7"/><text x="489">C</text>
<circle class="t" cx="503.5" r="7"/><text x="503.5">Y</text>
<circle class="t" cx="519" r="7"/><text x="519">Q</text>
<circle class="t" cx="533.5" r="7"/><text x="533.5">G</text>
<path class="n" d="M634 0l6-7H682v14H640z"/><text x="660">nad5</text>
<circle class="t" cx="689" r="7"/><text x="689">H</text>
<path class="n" d="M697 0l6-7H745v14H703z"/><text x="723">nad4</text>
<path class="n" d="M746 0l6-7H793v14H752z"/><text x="771.5">nad4L</text>
<circle class="t" cx="815" r="7"/><text class="sm" x="815">S2</text>
<path class="p" d="M823 0l6-7H871v14H829z"/><text x="849">cytb</text>
<path class="n" d="M871 0l6-7H919v14H877z"/><text x="897">nad6</text>
<circle class="t" cx="927" r="7"/><text x="927">P</text>
<circle class="t" cx="942.5" r="7"/><text x="942.5">M</text>
<circle class="t" cx="957" r="7"/><text x="957">W</text>
<circle class="t" cx="971" r="7"/><text x="971">E</text>
<text class="pm" x="1137">(-)</text>
</g>
</g>

<!-- Row 13 Sepiella inermis -->
<g id="map-sepiella-inermis" class="row">
<text class="nm" x="86" y="714">Sepiella inermis</text>
<g transform="translate(0,728)">
<path class="ln" d="M85 0H1134M85 14H1134"/>
<path class="b" d="M85-7H125l6 7-6 7H85z"/><text x="106">cox1</text>
<path class="b" d="M133-7H174l6 7-6 7H133z"/><text x="154.5">cox2</text>
<path class="a" d="M183-7H223l6 7-6 7H183z"/><text x="204">atp8</text>
<path class="a" d="M230-7H271l6 7-6 7H230z"/><text x="251.5">atp6</text>
<circle class="t" cx="547.5" r="7"/><text x="547.5">N</text>
<circle class="t" cx="561.5" r="7"/><text x="561.5">I</text>
<path class="n" d="M571-7H612l6 7-6 7H571z"/><text x="593">nad3</text>
<circle class="t" cx="625.5" r="7"/><text x="625.5">D</text>
<circle class="t" cx="800" r="7"/><text x="800">T</text>
<path class="b" d="M979-7H1020l6 7-6 7H979z"/><text x="1000.5">cox3</text>
<circle class="t" cx="1034" r="7"/><text x="1034">K</text>
<circle class="t" cx="1048.5" r="7"/><text x="1048.5">A</text>
<circle class="t" cx="1063" r="7"/><text x="1063">R</text>
<circle class="t" cx="1078" r="7"/><text class="sm" x="1078">S1</text>
<path class="n" d="M1086-7H1128l6 7-6 7H1086z"/><text x="1108">nad2</text>
<text class="pm" x="1137">(+)</text>
</g>
<g transform="translate(0,742)">
<circle class="t" cx="284.5" r="7"/><text x="284.5">F</text>
<path class="n" d="M292 0l6-7H340v14H298z"/><text x="318">nad1</text>
<circle class="t" cx="347.5" r="7"/><text class="sm" x="347.5">L2</text>
<circle class="t" cx="362" r="7"/><text class="sm" x="362">L1</text>
<path class="r" d="M373 0l6-7H418v14H379z"/><text x="397.5">rrnL</text>
<circle class="t" cx="426" r="7"/><text x="426">V</text>
<path class="r" d="M435 0l6-7H482v14H441z"/><text x="460.5">rrnS</text>
<circle class="t" cx="489" r="7"/><text x="489">C</text>
<circle class="t" cx="503.5" r="7"/><text x="503.5">Y</text>
<circle class="t" cx="519" r="7"/><text x="519">Q</text>
<circle class="t" cx="533.5" r="7"/><text x="533.5">G</text>
<path class="n" d="M634 0l6-7H682v14H640z"/><text x="660">nad5</text>
<circle class="t" cx="689" r="7"/><text x="689">H</text>
<path class="n" d="M697 0l6-7H745v14H703z"/><text x="723">nad4</text>
<path class="n" d="M746 0l6-7H793v14H752z"/><text x="771.5">nad4L</text>
<circle class="t" cx="815" r="7"/><text class="sm" x="815">S2</text>
<path class="p" d="M823 0l6-7H871v14H829z"/><text x="849">cytb</text>
<path class="n" d="M871 0l6-7H919v14H877z"/><text x="897">nad6</text>
<circle class="t" cx="927" r="7"/><text x="927">P</text>
<circle class="t" cx="942.5" r="7"/><text x="942.5">M</text>
<circle class="t" cx="957" r="7"/><text x="957">W</text>
<circle class="t" cx="971" r="7"/><text x="971">E</text>
<text class="pm" x="1137">(-)</text>
</g>
</g>

<!-- Row 14 Sepiella maindroni -->
<g id="map-sepiella-maindroni" class="row">
<text class="nm" x="86" y="768">Sepiella maindroni</text>
<g transform="translate(0,781)">
<path class="ln" d="M85 0H1134M85 14H1134"/>
<path class="b" d="M85-7H125l6 7-6 7H85z"/><text x="106">cox1</text>
<path class="b" d="M133-7H174l6 7-6 7H133z"/><path d="M170-7H174l6 7-6 7H170z" fill="#4c7cd6"/><text x="154.5">cox2</text>
<path class="a" d="M183-7H223l6 7-6 7H183z"/><text x="204"><tspan fill="#4a78e0">a</tspan>tp8</text>
<path class="a" d="M230-7H271l6 7-6 7H230z"/><text x="251.5">tp6</text>
<circle class="t" cx="547.5" r="7"/><text x="547.5">N</text>
<circle class="t" cx="561.5" r="7"/><text x="561.5">I</text>
<path class="n" d="M571-7H612l6 7-6 7H571z"/><text x="593">nad3</text>
<circle cx="625.5" r="7" fill="#bde3bd"/>
<circle class="t" cx="800" r="7"/><text x="800">T</text>
<path d="M979-7H1020l6 7-6 7H979z" fill="#5a88dc"/>
<circle class="t" cx="1034" r="7"/><text x="1034" style="fill:#4a6ae0">K</text>
<circle class="t" cx="1048.5" r="7"/><text x="1048.5" style="fill:#4a6ae0">A</text>
<circle class="t" cx="1063" r="7"/><text x="1063" style="fill:#4a6ae0">R</text>
<circle class="t" cx="1078" r="7"/><text class="sm" x="1078">S1</text>
<path class="n" d="M1086-7H1128l6 7-6 7H1086z"/><text x="1108">nad2</text>
<text class="pm" x="1137">(+)</text>
</g>
<g transform="translate(0,795)">
<circle class="t" cx="284.5" r="7"/><text x="284.5">F</text>
<path class="n" d="M292 0l6-7H340v14H298z"/><text x="318">nad1</text>
<circle class="t" cx="347.5" r="7"/><text class="sm" x="347.5">L2</text>
<circle class="t" cx="362" r="7"/><text class="sm" x="362">L1</text>
<path class="r" d="M373 0l6-7H418v14H379z"/><text x="397.5">rrnL</text>
<circle class="t" cx="426" r="7"/><text x="426">V</text>
<path class="r" d="M435 0l6-7H482v14H441z"/><text x="460.5">rrnS</text>
<circle class="t" cx="489" r="7"/><text x="489">C</text>
<circle class="t" cx="503.5" r="7"/><text x="503.5">Y</text>
<circle class="t" cx="519" r="7"/><text x="519">Q</text>
<circle class="t" cx="533.5" r="7"/><text x="533.5">G</text>
<path class="n" d="M634 0l6-7H682v14H640z"/><text x="660">nad5</text>
<circle class="t" cx="689" r="7"/><text x="689">H</text>
<path class="n" d="M697 0l6-7H745v14H703z"/><text x="723">nad4</text>
<path class="n" d="M746 0l6-7H793v14H752z"/><text x="771.5">nad4L</text>
<circle class="t" cx="815" r="7"/><text class="sm" x="815">S2</text>
<path class="p" d="M823 0l6-7H871v14H829z"/><text x="849">cytb</text>
<path class="n" d="M871 0l6-7H919v14H877z"/><text x="897">nad6</text>
<circle class="t" cx="927" r="7"/><text x="927">P</text>
<circle class="t" cx="942.5" r="7"/><text x="942.5">M</text>
<circle class="t" cx="957" r="7"/><text x="957">W</text>
<circle class="t" cx="971" r="7"/><text x="971">E</text>
<text class="pm" x="1137">(-)</text>
</g>
</g>

<!-- Row 15 Sepiella japonica -->
<g id="map-sepiella-japonica" class="row">
<text class="nm" x="86" y="821">Sepiella japonica</text>
<g transform="translate(0,833)">
<path class="ln" d="M85 0H1134M85 14H1134"/>
<path class="b" d="M85-7H125l6 7-6 7H85z"/><text x="106">cox1</text>
<path class="b" d="M133-7H174l6 7-6 7H133z"/><text x="154.5">cox2</text>
<path class="a" d="M183-7H223l6 7-6 7H183z"/><text x="204">atp8</text>
<path class="a" d="M230-7H271l6 7-6 7H230z"/><text x="251.5">atp6</text>
<circle class="t" cx="547.5" r="7"/><text x="547.5">N</text>
<circle class="t" cx="561.5" r="7"/><text x="561.5">I</text>
<path class="n" d="M571-7H612l6 7-6 7H571z"/><text x="593">nad3</text>
<circle class="t" cx="625.5" r="7"/><text x="625.5">D</text>
<circle class="t" cx="800" r="7"/><text x="800">I</text>
<path class="b" d="M979-7H1020l6 7-6 7H979z"/><text x="1000.5">cox3</text>
<circle class="t" cx="1034" r="7"/><text x="1034">K</text>
<circle class="t" cx="1048.5" r="7"/><text x="1048.5">A</text>
<circle class="t" cx="1063" r="7"/><text x="1063">R</text>
<circle class="t" cx="1078" r="7"/><text class="sm" x="1078">S1</text>
<path class="n" d="M1086-7H1128l6 7-6 7H1086z"/><text x="1108">nad2</text>
<text class="pm" x="1137">(+)</text>
</g>
<g transform="translate(0,847)">
<circle class="t" cx="284.5" r="7"/><text x="284.5">F</text>
<path class="n" d="M292 0l6-7H340v14H298z"/><text x="318">nad1</text>
<circle class="t" cx="347.5" r="7"/><text class="sm" x="347.5">L2</text>
<circle class="t" cx="362" r="7"/><text class="sm" x="362">L1</text>
<path class="r" d="M373 0l6-7H418v14H379z"/><text x="397.5">rrnL</text>
<circle class="t" cx="426" r="7"/><text x="426">V</text>
<path class="r" d="M435 0l6-7H482v14H441z"/><text x="460.5">rrnS</text>
<circle class="t" cx="489" r="7"/><text x="489">C</text>
<circle class="t" cx="503.5" r="7"/><text x="503.5">Y</text>
<circle class="t" cx="519" r="7"/><text x="519">Q</text>
<circle class="t" cx="533.5" r="7"/><text x="533.5">G</text>
<path class="n" d="M634 0l6-7H682v14H640z"/><text x="660">nad5</text>
<circle class="t" cx="689" r="7"/><text x="689">H</text>
<path class="n" d="M697 0l6-7H745v14H703z"/><text x="723">nad4</text>
<path class="n" d="M746 0l6-7H793v14H752z"/><text x="771.5">nad4L</text>
<circle class="t" cx="815" r="7"/><text class="sm" x="815">S2</text>
<path class="p" d="M823 0l6-7H871v14H829z"/><text x="849">cytb</text>
<path class="n" d="M871 0l6-7H919v14H877z"/><text x="897">nad6</text>
<circle class="t" cx="927" r="7"/><text x="927">P</text>
<circle class="t" cx="942.5" r="7"/><text x="942.5">M</text>
<circle class="t" cx="957" r="7"/><text x="957">W</text>
<circle class="t" cx="971" r="7"/><text x="971">E</text>
<text class="pm" x="1137">(-)</text>
</g>
</g>

<!-- Row 16 Spirula spirula -->
<g id="map-spirula-spirula" class="row">
<text class="nm" x="86" y="872">Spirula spirula</text>
<g transform="translate(0,886)">
<path class="ln" d="M84 0H1118M84 14H1118"/>
<path class="b" d="M84-7H125l6 7-6 7H84z"/><text x="105.5">cox1</text>
<path class="b" d="M133-7H174l6 7-6 7H133z"/><text x="154.5">cox2</text>
<circle class="t" cx="188.5" r="7"/><text x="188.5">D</text>
<path class="a" d="M195-7H236l6 7-6 7H195z"/><text x="216.5">atp8</text>
<path class="a" d="M244-7H285l6 7-6 7H244z"/><text x="265.5">atp6</text>
<circle class="t" cx="474.5" r="7"/><text x="474.5">T</text>
<path d="M886-7H926l6 7-6 7H886z" fill="#b2ceb2"/>
<circle class="t" cx="941" r="7"/><text x="941" style="fill:#b8c8a0">K</text>
<circle class="t" cx="955" r="7"/><text x="955" style="fill:#b8c8a0">A</text>
<circle class="t" cx="969.5" r="7"/><text x="969.5" style="fill:#b8c8a0">R</text>
<circle class="t" cx="985" r="7"/><text x="985" style="fill:#b8c8a0">I</text>
<circle class="t" cx="1000" r="7"/>
<path class="n" d="M1009-7H1049l6 7-6 7H1009z"/><text x="1030">nad3</text>
<circle cx="1064" r="7" fill="#b4c400"/>
<path class="n" d="M1071-7H1112l6 7-6 7H1071z"/><text x="1092" style="fill:#9aa8b4">nad2</text>
<text class="pm" x="1122">(+)</text>
</g>
<g transform="translate(0,900)">
<circle class="t" cx="299.5" r="7"/><text x="299.5">F</text>
<path class="n" d="M308 0l6-7H355v14H314z"/><text x="333.5">nad5</text>
<circle class="t" cx="363" r="7"/><text x="363">H</text>
<path class="n" d="M371 0l6-7H418v14H377z"/><text x="396.5">nad4</text>
<path class="n" d="M419 0l6-7H466v14H425z"/><text x="444.5">nad4L</text>
<circle class="t" cx="489.5" r="7"/><text class="sm" x="489.5">S2</text>
<path class="p" d="M497 0l6-7H544v14H503z"/><text x="522.5">cytb</text>
<path class="n" d="M546 0l6-7H593v14H552z"/><text x="571.5">nad6</text>
<circle class="t" cx="598.5" r="7"/><text x="598.5">P</text>
<path class="n" d="M607 0l6-7H655v14H613z"/><text x="633">nad1</text>
<circle class="t" cx="663" r="7"/><text x="663">L</text>
<circle class="t" cx="677" r="7"/><text x="677">L</text>
<path class="r" d="M687 0l6-7H733v14H693z"/><text x="712">rrnL</text>
<circle class="t" cx="741" r="7"/><text x="741">V</text>
<path class="r" d="M751 0l6-7H797v14H757z"/><text x="776">rrnS</text>
<circle class="t" cx="805.5" r="7"/><text x="805.5">M</text>
<circle class="t" cx="819.5" r="7"/><text x="819.5">C</text>
<circle class="t" cx="835" r="7"/><text x="835">W</text>
<circle class="t" cx="850" r="7"/><text x="850">Q</text>
<circle class="t" cx="864.5" r="7"/><text x="864.5">G</text>
<circle class="t" cx="878.5" r="7"/><text x="878.5">E</text>
<text class="pm" x="1122">(-)</text>
</g>
</g>

<!-- Row 17 Thysanoteuthis rhombus -->
<g id="map-thysanoteuthis-rhombus" class="row">
<text class="nm" x="86" y="919">Thysanoteuthis rhombus</text>
<g transform="translate(0,938.5)">
<path class="ld" d="M84 0H1389"/>
<path class="b" d="M84-7H123l6 7-6 7H84z"/><text x="104.5">cox1</text>
<path class="b" d="M132-7H172l6 7-6 7H132z"/><text x="152.5">cox2</text>
<circle class="t" cx="188" r="7"/><text x="188">D</text>
<path class="a" d="M195-7H236l6 7-6 7H195z"/><text x="215.5">atp8</text>
<path class="a" d="M244-7H284l6 7-6 7H244z"/><text x="265">atp6</text>
<circle class="t" cx="457.5" r="7"/><text x="457.5">I</text>
<path class="b" d="M794-7H834l6 7-6 7H794z"/><text x="815">cox3</text>
<circle class="t" cx="847.5" r="7"/><text x="847.5">A</text>
<circle class="t" cx="863" r="7"/><text x="863">N</text>
<circle class="t" cx="877.5" r="7"/><text x="877.5">I</text>
<path class="n" d="M886-7H926l6 7-6 7H886z"/><text x="907">nad3</text>
<path class="b" d="M935-7H976l6 7-6 7H935z"/><text x="956">cox1</text>
<path class="b" d="M983-7H1024l6 7-6 7H983z"/><text x="1004">cox2</text>
<circle class="t" cx="1038.5" r="7"/><text x="1038.5">D</text>
<path class="a" d="M1046-7H1087l6 7-6 7H1046z"/><text x="1067">atp8</text>
<path class="a" d="M1094-7H1135l6 7-6 7H1094z"/><text x="1115.5">atp6</text>
<path class="b" d="M1250-7H1292l6 7-6 7H1250z"/><text x="1272">cox3</text>
<circle class="t" cx="1305.5" r="7"/><text x="1305.5">K</text>
<circle class="t" cx="1320.5" r="7"/><text x="1320.5">R</text>
<circle class="t" cx="1335" r="7"/><text x="1335">S</text>
<path class="n" d="M1343-7H1383l6 7-6 7H1343z"/><text x="1364">nad2</text>
<text class="pm" x="1393">(+)</text>
</g>
<g transform="translate(0,952.5)">
<path class="n" d="M293 0l6-7H341v14H299z"/><text x="319">nad5</text>
<circle class="t" cx="348" r="7"/><text x="348">H</text>
<path class="n" d="M356 0l6-7H403v14H362z"/><text x="381.5">nad4</text>
<path class="n" d="M405 0l6-7H451v14H411z"/><text x="430">nad4L</text>
<circle class="t" cx="474" r="7"/><text x="474">S</text>
<path class="p" d="M481 0l6-7H530v14H487z"/><text x="507.5">cytb</text>
<path class="n" d="M531 0l6-7H578v14H537z"/><text x="556.5">nad6</text>
<circle class="t" cx="585.5" r="7"/><text x="585.5">P</text>
<path class="n" d="M593 0l6-7H641v14H599z"/><text x="619">nad1</text>
<circle class="t" cx="648" r="7"/><text x="648">L</text>
<circle class="t" cx="663.5" r="7"/><text x="663.5">L</text>
<path class="r" d="M671 0l6-7H719v14H677z"/><text x="697">rrnL</text>
<circle class="t" cx="726.5" r="7"/><text x="726.5">M</text>
<circle class="t" cx="741.5" r="7"/><text x="741.5">Y</text>
<circle class="t" cx="756.5" r="7"/><text x="756.5">W</text>
<circle class="t" cx="771.5" r="7"/><text x="771.5">G</text>
<circle class="t" cx="786.5" r="7"/><text x="786.5">E</text>
<circle class="t" cx="1149" r="7"/><text x="1149">F</text>
<circle class="t" cx="1164" r="7"/><text x="1164">V</text>
<path class="r" d="M1173 0l6-7H1220v14H1179z"/><text x="1198.5">rrnS</text>
<circle class="t" cx="1228" r="7"/><text x="1228">C</text>
<circle class="t" cx="1243" r="7"/><text x="1243">Q</text>
<text class="pm" x="1393">(-)</text>
</g>
</g>

<!-- Row 18 Nautilus pompilius -->
<g id="map-nautilus-pompilius" class="row">
<text class="nm" x="87" y="975">Nautilus pompilius</text>
<g transform="translate(0,990)">
<path class="b" d="M84-7H123l6 7-6 7H84z"/><text x="104.5">cox1</text>
<path class="b" d="M132-7H172l6 7-6 7H132z"/><text x="152.5">cox2</text>
<circle class="t" cx="188" r="7"/><text x="188">D</text>
<path class="a" d="M440-7H482l6 7-6 7H440z"/><text x="462">atp6</text>
<path class="b" d="M838-7H878l6 7-6 7H838z"/><text x="859">cox3</text>
<circle class="t" cx="893" r="7"/><text x="893">K</text>
<circle class="t" cx="908" r="7"/><text x="908">A</text>
<circle class="t" cx="923" r="7"/><text x="923">R</text>
<circle class="t" cx="938" r="7"/><text x="938">N</text>
<circle class="t" cx="952.5" r="7"/><text x="952.5">I</text>
<path class="n" d="M960-7H1000l6 7-6 7H960z"/><text x="981">nad3</text>
<circle class="t" cx="1014.5" r="7"/><text x="1014.5">S</text>
<path class="n" d="M1023-7H1064l6 7-6 7H1023z"/><text x="1044.5">nad2</text>
<text class="pm" x="1074">(+)</text>
</g>
<g transform="translate(0,1004)">
<circle class="t" cx="203" r="7"/><text x="203">F</text>
<circle class="t" cx="217.5" r="7"/><text x="217.5">L</text>
<circle class="t" cx="232" r="7"/><text x="232">L</text>
<path class="r" d="M241 0l6-7H287v14H247z"/><text x="266">rrnL</text>
<circle class="t" cx="296" r="7"/><text x="296">V</text>
<path class="r" d="M305 0l6-7H351v14H311z"/><text x="330">rrnS</text>
<circle class="t" cx="359" r="7"/><text x="359">M</text>
<circle class="t" cx="374" r="7"/><text x="374">C</text>
<circle class="t" cx="389" r="7"/><text x="389">Y</text>
<circle class="t" cx="404" r="7"/><text x="404">W</text>
<circle class="t" cx="419" r="7"/><text x="419">Q</text>
<circle class="t" cx="433.5" r="7"/><text x="433.5">G</text>
<path class="n" d="M493 0l6-7H540v14H499z"/><text x="518.5">nad5</text>
<circle class="t" cx="545.5" r="7"/><text x="545.5">H</text>
<path class="n" d="M552 0l6-7H600v14H558z"/><text x="578">nad4</text>
<path class="n" d="M601 0l6-7H648v14H607z"/><text x="626.5">nad4L</text>
<circle class="t" cx="656" r="7"/><text x="656">S</text>
<path class="p" d="M664 0l6-7H711v14H670z"/><text x="689.5">cytb</text>
<path class="n" d="M713 0l6-7H760v14H719z"/><text x="738.5">nad6</text>
<circle class="t" cx="768" r="7"/><text x="768">P</text>
<path class="n" d="M775 0l6-7H822v14H781z"/><text x="800.5">nad1</text>
<circle class="t" cx="830.5" r="7"/><text x="830.5">E</text>
<text class="pm" x="1074">(-)</text>
</g>
</g>

<!-- (B) phylogenetic tree: connectors -->
<g id="tree-branches" class="tree">
<path d="M34 1123.2H142M142 1044V1202.4M142 1044H888M142 1202.4H248M248 1094V1310.9"/>
<path d="M248 1094H677M677 1072V1115.5M677 1072H888M677 1115.5H781M781 1101V1130M781 1101H888M781 1130H888"/>
<path d="M248 1310.9H356M356 1207V1414.7"/>
<path d="M356 1207H462M462 1173V1241.4M462 1173H781M781 1159V1187M781 1159H888M781 1187H888"/>
<path d="M462 1241.4H568M568 1216V1266.8M568 1216H888M568 1266.8H677M677 1245V1288.5M677 1245H888M677 1288.5H781M781 1274V1303M781 1274H888M781 1303H888"/>
<path d="M356 1414.7H462M462 1357V1472.4"/>
<path d="M462 1357H568M568 1332V1382.5M568 1332H888M568 1382.5H677M677 1361V1404M677 1361H888M677 1404H781M781 1390V1418M781 1390H888M781 1418H888"/>
<path d="M462 1472.4H568M568 1447V1497.8M568 1447H888M568 1497.8H677M677 1476V1519.5M677 1476H888M677 1519.5H781M781 1505V1534M781 1505H888M781 1534H888"/>
</g>
<g id="tree-support">
<text class="bs" x="658" y="1113">100</text>
<text class="bs" x="763" y="1135">100</text>
<text class="bs" x="764" y="1193">63</text>
<text class="bs" x="441" y="1227">86</text>
<text class="bs" x="548" y="1261">97</text>
<text class="bs" x="655" y="1287">80</text>
<text class="bs" x="762" y="1308">98</text>
<text class="bs" x="337" y="1330">100</text>
<text class="bs" x="548" y="1376">56</text>
<text class="bs" x="657" y="1402">100</text>
<text class="bs" x="762" y="1423">97</text>
<text class="bs" x="443" y="1434">100</text>
<text class="bs" x="550" y="1492">100</text>
<text class="bs" x="657" y="1517">100</text>
<text class="bs" x="764" y="1539">100</text>
</g>
<g id="tree-leaves" class="leaf">
<text x="895" y="1051">Nautilus pompilius</text>
<text x="895" y="1079">Octopus bimaculoides</text>
<text x="895" y="1108">Octopus vulgaris</text>
<text x="895" y="1137">Octopus sinensis</text>
<text x="895" y="1166">Sepioteuthis lessoniana</text>
<text x="895" y="1194">Idiosepius hallami</text>
<text x="895" y="1223">Spirula spirula</text>
<text x="895" y="1252">Architeuthis dux</text>
<text x="895" y="1281">Todarodes pacificus</text>
<text x="895" y="1310">Thysanoteuthis rhombus</text>
<text x="895" y="1339">Metasepia tullbergi</text>
<text x="895" y="1368">Acanthosepion esculentum</text>
<text x="895" y="1397">Acanthosepion pharaonis</text>
<text x="895" y="1425">Acanthosepion lycidas</text>
<text x="895" y="1454">Sepia officinalis</text>
<text x="895" y="1483">Sepiella inermis</text>
<text x="895" y="1512">Sepiella maindroni</text>
<text x="895" y="1541">Sepiella japonica</text>
</g>
<g id="star">
<path d="M1113 1508L1118.9 1524.9 1136.8 1525.3 1122.5 1536.1 1127.7 1553.2 1113 1543 1098.3 1553.2 1103.5 1536.1 1089.2 1525.3 1107.1 1524.9Z" fill="#ee1c1c"/>
</g>
<g id="families">
<rect class="fd" x="1179" y="1035" width="8" height="19"/><text class="fam" x="1198" y="1050">Nautiloidea</text>
<rect class="fk" x="1179" y="1063" width="8" height="73"/><text class="fam" x="1196" y="1105">Octopodidae</text>
<rect class="fd" x="1179" y="1150" width="8" height="19"/><text class="fam" x="1196" y="1166">Loliginidae</text>
<rect class="fk" x="1179" y="1179" width="8" height="18"/><text class="fam" x="1196" y="1194">Idiosepiidae</text>
<rect class="fd" x="1179" y="1207" width="8" height="19"/><text class="fam" x="1196" y="1222">Spirulidae</text>
<rect class="fk" x="1179" y="1238" width="8" height="18"/><text class="fam" x="1196" y="1253">Architeuthidae</text>
<rect class="fd" x="1179" y="1262" width="8" height="19"/><text class="fam" x="1196" y="1276">Ommastrephidae</text>
<rect class="fk" x="1179" y="1294" width="8" height="18"/><text class="fam" x="1196" y="1308">Thysanoteuthidae</text>
<rect class="fd" x="1179" y="1325" width="8" height="221"/><text class="fam" x="1196" y="1442">Sepiidae</text>
<rect class="fk" x="1356" y="1059" width="11" height="487"/>
<text class="fam" style="font-size:31px" transform="translate(1398,1278) rotate(-90)" text-anchor="middle">Coleoidea</text>
</g>
</g>
</svg>
